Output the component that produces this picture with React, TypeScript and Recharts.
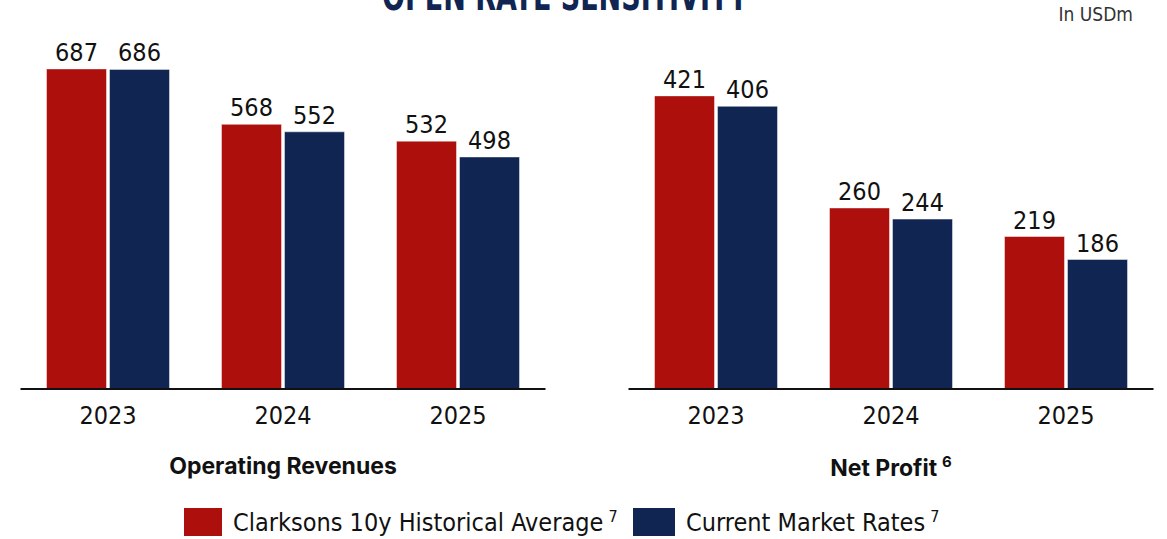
import { Bar, BarChart, LabelList, XAxis, YAxis } from "recharts";

const years = ["2023", "2024", "2025"];
const revHistorical = [687, 568, 532];
const revCurrent = [686, 552, 498];
const profitHistorical = [421, 260, 219];
const profitCurrent = [406, 244, 186];

const RED = "#ad100c";
const NAVY = "#102552";
const FONT = "'Liberation Sans Narrow', 'DejaVu Sans Condensed', Roboto, sans-serif";

const revData = years.map((y, i) => ({ year: y, hist: revHistorical[i], curr: revCurrent[i] }));
const profitData = years.map((y, i) => ({ year: y, hist: profitHistorical[i], curr: profitCurrent[i] }));

function Panel({ data, max, left, title, sup }: { data: typeof revData; max: number; left: number; title: string; sup?: string }) {
  return (
    <div style={{ position: "absolute", left, top: 0 }}>
      <BarChart
        width={546}
        height={440}
        data={data}
        margin={{ top: 20, right: 0.5, left: 20.5, bottom: 21 }}
        barSize={60}
        barGap={3}
      >
        <YAxis hide domain={[0, max]} />
        <XAxis
          dataKey="year"
          tickLine={false}
          axisLine={{ stroke: "#111", strokeWidth: 2 }}
          tickMargin={11}
          tick={{ fill: "#111", fontSize: 25, fontFamily: FONT }}
        />
        <Bar dataKey="hist" fill={RED} stroke="rgba(255,255,255,0.45)" isAnimationActive={false}>
          <LabelList dataKey="hist" position="top" offset={8} fill="#111" fontSize={25} fontFamily={FONT} />
        </Bar>
        <Bar dataKey="curr" fill={NAVY} stroke="rgba(255,255,255,0.45)" isAnimationActive={false}>
          <LabelList dataKey="curr" position="top" offset={8} fill="#111" fontSize={25} fontFamily={FONT} />
        </Bar>
      </BarChart>
      <div
        style={{
          position: "absolute",
          left: 20,
          width: 526,
          top: 452,
          textAlign: "center",
          fontFamily: "Inter, Roboto, sans-serif",
          fontWeight: 700,
          fontSize: 23,
          color: "#111",
        }}
      >
        {title}
        {sup && <sup style={{ fontSize: 15, marginLeft: 5 }}>{sup}</sup>}
      </div>
    </div>
  );
}

function LegendItem({ color, label, left, w }: { color: string; label: string; left: number; w: number }) {
  return (
    <div style={{ position: "absolute", left, top: 507, display: "flex", alignItems: "center" }}>
      <div style={{ width: w, height: 28, background: color }} />
      <span style={{ marginLeft: 11, fontFamily: FONT, fontSize: 25, color: "#111", whiteSpace: "nowrap" }}>
        {label}
        <sup style={{ fontSize: 16, marginLeft: 5 }}>7</sup>
      </span>
    </div>
  );
}

export default function App() {
  return (
    <div style={{ position: "fixed", left: 0, top: 0, width: 1167, height: 539, overflow: "hidden", background: "#fff" }}>
      <div
        style={{
          position: "absolute",
          left: 0,
          width: 1130,
          top: -24,
          textAlign: "center",
          fontFamily: FONT,
          fontWeight: 700,
          fontSize: 40,
          color: NAVY,
          lineHeight: "40px",
          transform: "scaleX(0.75)",
        }}
      >
        OPEN RATE SENSITIVITY
      </div>
      <div
        style={{
          position: "absolute",
          right: 34,
          top: 3,
          fontFamily: FONT,
          fontSize: 19,
          color: "#333",
        }}
      >
        In USDm
      </div>
      <Panel data={revData} max={792} left={0} title="Operating Revenues" />
      <Panel data={profitData} max={530} left={608} title="Net Profit" sup="6" />
      <LegendItem color={RED} label="Clarksons 10y Historical Average" left={184} w={38} />
      <LegendItem color={NAVY} label="Current Market Rates" left={633} w={42} />
    </div>
  );
}
